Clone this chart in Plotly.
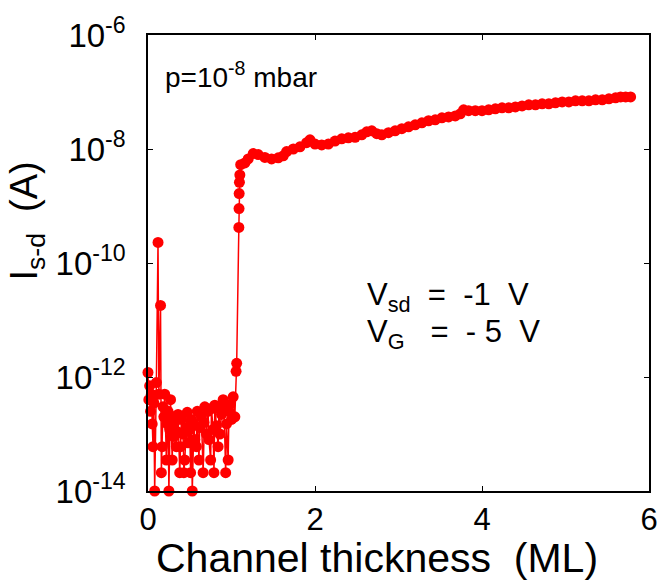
import plotly.graph_objects as go

# ---- data ----
thickness_low = [0.00, 0.01, 0.02, 0.03, 0.04, 0.05, 0.06, 0.07, 0.08, 0.10,
                 0.12, 0.13, 0.15, 0.16, 0.17, 0.18, 0.19, 0.20, 0.22, 0.23,
                 0.24, 0.25, 0.26, 0.27, 0.29, 0.30, 0.31, 0.32, 0.34, 0.35,
                 0.36, 0.38, 0.39, 0.40, 0.42, 0.43, 0.44, 0.46, 0.47, 0.48,
                 0.50, 0.51, 0.52, 0.53, 0.55, 0.56, 0.58, 0.59, 0.61, 0.62,
                 0.64, 0.66, 0.67, 0.68, 0.70, 0.72, 0.73, 0.75, 0.76, 0.78,
                 0.79, 0.80, 0.82, 0.84, 0.85, 0.86, 0.88, 0.90, 0.91, 0.93,
                 0.94, 0.96, 0.97, 0.98, 1.00, 1.02, 1.04]
current_low = [1.2e-12, 4.0e-13, 7.0e-13, 2.5e-13, 5.0e-13, 1.5e-13, 6.0e-14, 3.5e-13, 1.0e-14, 8.0e-13,
               2.3e-10, 5.0e-13, 1.8e-11, 2.1e-14, 6.0e-14, 3.0e-13, 2.0e-13, 5.0e-13, 3.5e-14, 1.5e-13,
               2.5e-13, 1.0e-14, 1.2e-13, 4.0e-13, 3.5e-14, 2.0e-13, 9.0e-14, 1.6e-13, 6.0e-14, 1.1e-13,
               2.2e-13, 2.1e-14, 6.0e-14, 1.8e-13, 1.0e-13, 2.1e-14, 3.5e-14, 1.3e-13, 2.4e-13, 7.0e-14,
               1.2e-13, 2.1e-14, 1.8e-13, 1.0e-14, 1.5e-13, 8.0e-14, 6.0e-14, 2.5e-13, 3.5e-14, 1.3e-13,
               2.0e-13, 2.1e-14, 1.6e-13, 3.0e-13, 1.0e-13, 2.5e-13, 8.0e-14, 3.5e-14, 2.8e-13, 1.2e-13,
               2.1e-14, 3.2e-13, 1.4e-13, 6.0e-14, 2.8e-13, 1.0e-13, 2.2e-13, 4.0e-13, 3.0e-13, 2.1e-14,
               1.5e-13, 3.5e-14, 2.5e-13, 3.3e-13, 1.8e-13, 4.5e-13, 2.0e-13]

thickness_high = [1.055, 1.062, 1.088, 1.090, 1.092, 1.095, 1.100, 1.110, 1.16, 1.20,
                  1.26, 1.32, 1.40, 1.48, 1.56, 1.62, 1.66, 1.74, 1.82, 1.90,
                  1.94, 2.00, 2.08, 2.16, 2.24, 2.32, 2.40, 2.48, 2.56, 2.62,
                  2.68, 2.74, 2.80, 2.88, 2.96, 3.04, 3.12, 3.20, 3.28, 3.36,
                  3.44, 3.52, 3.60, 3.68, 3.74, 3.78, 3.84, 3.92, 4.00, 4.08,
                  4.16, 4.24, 4.32, 4.40, 4.48, 4.56, 4.64, 4.72, 4.80, 4.88,
                  4.96, 5.04, 5.12, 5.20, 5.28, 5.36, 5.44, 5.52, 5.60, 5.66,
                  5.72, 5.78]
current_high = [1.26e-12, 1.74e-12, 4.2e-10, 9.0e-10, 1.65e-9, 2.6e-9, 3.5e-9, 5.3e-9, 5.7e-9, 6.7e-9,
                8.3e-9, 8.0e-9, 7.1e-9, 6.7e-9, 7.0e-9, 7.6e-9, 9.0e-9, 1.0e-8, 1.09e-8, 1.29e-8,
                1.45e-8, 1.22e-8, 1.18e-8, 1.22e-8, 1.38e-8, 1.51e-8, 1.57e-8, 1.6e-8, 1.77e-8, 2.0e-8,
                2.08e-8, 1.86e-8, 1.77e-8, 1.93e-8, 2.08e-8, 2.27e-8, 2.45e-8, 2.66e-8, 2.88e-8, 3.13e-8,
                3.25e-8, 3.52e-8, 3.66e-8, 3.8e-8, 4.14e-8, 4.87e-8, 4.7e-8, 4.7e-8, 4.7e-8, 4.87e-8,
                5.07e-8, 5.27e-8, 5.27e-8, 5.48e-8, 5.7e-8, 5.95e-8, 5.95e-8, 6.2e-8, 6.2e-8, 6.46e-8,
                6.7e-8, 6.7e-8, 7.0e-8, 7.0e-8, 7.0e-8, 7.3e-8, 7.3e-8, 7.6e-8, 7.9e-8, 8.2e-8,
                8.2e-8, 8.2e-8]

x_tick_vals = [0, 2, 4, 6]
y_tick_vals = [1e-14, 1e-12, 1e-10, 1e-8, 1e-6]
y_tick_text = ["10<sup>-14</sup>", "10<sup>-12</sup>", "10<sup>-10</sup>", "10<sup>-8</sup>", "10<sup>-6</sup>"]

x_all = thickness_low + thickness_high
y_all = current_low + current_high

FONT = "Arial, Liberation Sans, sans-serif"
RED = "#ff0000"

fig = go.Figure()
fig.add_trace(go.Scatter(
    x=x_all, y=y_all, mode="lines+markers",
    line=dict(color=RED, width=1.5),
    marker=dict(color=RED, size=11, line=dict(width=0)),
    cliponaxis=False, showlegend=False,
))

axis_common = dict(
    showline=True, linecolor="black", linewidth=1.5, mirror="ticks",
    ticks="inside", ticklen=5, tickwidth=1, tickcolor="black",
    showgrid=False, zeroline=False,
)

fig.update_xaxes(range=[0, 6], tickvals=x_tick_vals, ticktext=[str(v) for v in x_tick_vals],
                 tickfont=dict(family=FONT, size=31, color="black"), **axis_common)
fig.update_yaxes(type="log", range=[-14, -6], tickvals=y_tick_vals, ticktext=y_tick_text,
                 tickfont=dict(family=FONT, size=33, color="black"), ticklabelstandoff=14,
                 **axis_common)

fig.update_layout(
    width=670, height=584,
    margin=dict(l=148, r=13, t=34, b=93),
    paper_bgcolor="white", plot_bgcolor="white",
    font=dict(family=FONT, color="black"),
    annotations=[
        dict(text="Channel thickness  (ML)", xref="paper", yref="paper",
             x=(381 - 148) / 509, y=-(558 - 491) / 457, xanchor="center", yanchor="middle",
             showarrow=False, font=dict(size=41, family=FONT, color="black")),
        dict(text="I<sub>s-d</sub>  (A)", xref="paper", yref="paper",
             x=-(148 - 25) / 509, y=(491 - 220) / 457, xanchor="center", yanchor="middle",
             textangle=-90, showarrow=False, font=dict(size=38, family=FONT, color="black")),
        dict(text="p=10<sup>-8</sup> mbar", xref="paper", yref="paper",
             x=(163 - 148) / 509, y=(491 - 74) / 457, xanchor="left", yanchor="middle",
             showarrow=False, font=dict(size=28, family=FONT, color="black")),
        dict(text="V<sub>sd</sub>\u00a0 = \u00a0-1 \u00a0V", xref="paper", yref="paper",
             x=(368 - 148) / 509, y=(491 - 297) / 457, xanchor="left", yanchor="middle",
             showarrow=False, font=dict(size=31, family=FONT, color="black")),
        dict(text="V<sub>G</sub>\u00a0\u00a0 = \u00a0- 5 \u00a0V", xref="paper", yref="paper",
             x=(368 - 148) / 509, y=(491 - 334) / 457, xanchor="left", yanchor="middle",
             showarrow=False, font=dict(size=31, family=FONT, color="black")),
    ],
)

fig.write_html("out.html")
